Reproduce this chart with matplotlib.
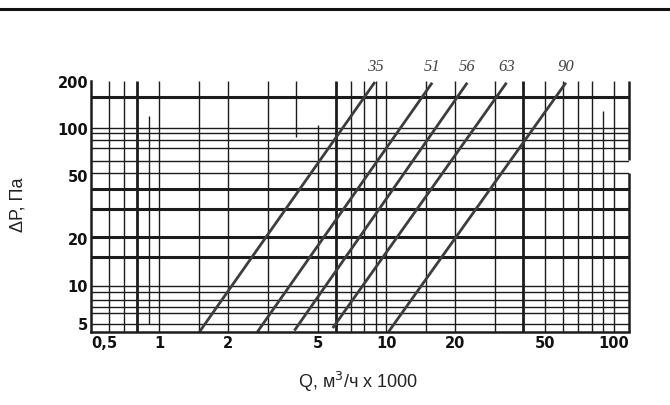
import matplotlib
matplotlib.use('Agg')
import matplotlib.pyplot as plt
from matplotlib.lines import Line2D

# flow Q (m3/h x 1000) and pressure drop (Pa) at the ends of each size line
sizes = ['35', '51', '56', '63', '90']
q_lo = [1.5, 2.7, 3.93, 5.8, 10.2]
dp_lo = [5.0, 5.0, 5.1, 5.3, 5.0]
q_hi = [8.9, 15.9, 22.7, 33.8, 61.7]
dp_hi = [197, 195, 195, 195, 195]

x_ticks = [0.5, 1, 2, 5, 10, 20, 50, 100]
x_labels = ['0,5', '1', '2', '5', '10', '20', '50', '100']
y_ticks = [5, 10, 20, 50, 100, 200]
y_labels = ['5', '10', '20', '50', '100', '200']

# grid of the scanned chart
h_thin = [100, 93, 84, 75, 62, 52, 9.9, 8.95, 8.0, 7.2, 6.6, 5.66]
h_thick = [158, 41, 30.6, 20.2, 15]
v_thin = [0.6, 0.7, 1, 1.5, 2, 3, 7, 8, 9, 10, 15, 20, 30, 50, 60, 70, 80, 100]
v_thick = [0.8, 6, 40]
# partial vertical lines: Q, dP from, dP to
v_part_q = [0.9, 4, 5, 90]
v_part_lo = [5.66, 88, 5, 5]
v_part_hi = [119, 200, 105, 128]

xmin, xmax = 0.5, 117
ymin, ymax = 5, 200

fig = plt.figure(figsize=(6.7, 4.06), dpi=100)
ax = fig.add_axes([91/670, 1-333/406, 538/670, 251/406])
ax.set_xscale('log'); ax.set_yscale('log')
ax.set_xlim(xmin, xmax); ax.set_ylim(ymin, ymax)

gc = '#1c1c1c'
ax.hlines(h_thin, xmin, xmax, color=gc, lw=1.0)
ax.hlines(h_thick, xmin, xmax, color=gc, lw=2.2)
ax.vlines(v_thin, ymin, ymax, color=gc, lw=1.0)
ax.vlines(v_thick, ymin, ymax, color=gc, lw=2.0)
ax.vlines(v_part_q, v_part_lo, v_part_hi, color=gc, lw=1.0)
# right border with a gap
ax.vlines([xmax, xmax], [ymin, 63], [52, ymax], color=gc, lw=1.8, clip_on=False)

for name, x0, y0, x1, y1 in zip(sizes, q_lo, dp_lo, q_hi, dp_hi):
    ax.plot([x0, x1], [y0, y1], color='#3d3d3d', lw=2.0, solid_capstyle='butt', clip_on=False)
    ax.annotate(name, (x1, y1), xytext=(0, 6), textcoords='offset points',
                ha='center', va='bottom', fontsize=12, style='italic',
                family='Liberation Serif', color='#444444')

for s in ['top', 'right']:
    ax.spines[s].set_visible(False)
for s in ['left', 'bottom']:
    ax.spines[s].set_linewidth(1.8)
    ax.spines[s].set_color(gc)

ax.set_xticks(x_ticks); ax.set_xticklabels(x_labels)
ax.set_yticks(y_ticks); ax.set_yticklabels(y_labels)
ax.minorticks_off()
ax.tick_params(length=0, pad=2)
for t in ax.get_xticklabels() + ax.get_yticklabels():
    t.set_family(['Liberation Sans Narrow', 'DejaVu Sans'])
    t.set_fontweight('bold'); t.set_fontsize(10.5); t.set_color('#111111')
ax.get_yticklabels()[0].set_va('bottom')
ax.get_xticklabels()[0].set_ha('left')

fig.text(358/670, 1-382/406, 'Q, м$^3$/ч x 1000', ha='center', va='center',
         fontsize=13, family='Liberation Sans', color='#222222')
fig.text(18/670, 1-205/406, 'ΔP, Па', ha='center', va='center', rotation=90,
         fontsize=13, family='Liberation Sans', color='#222222')

fig.add_artist(Line2D([0, 1], [1-10/406, 1-10/406], color='#111111', lw=2.2))

fig.savefig('out.png', dpi=100)
